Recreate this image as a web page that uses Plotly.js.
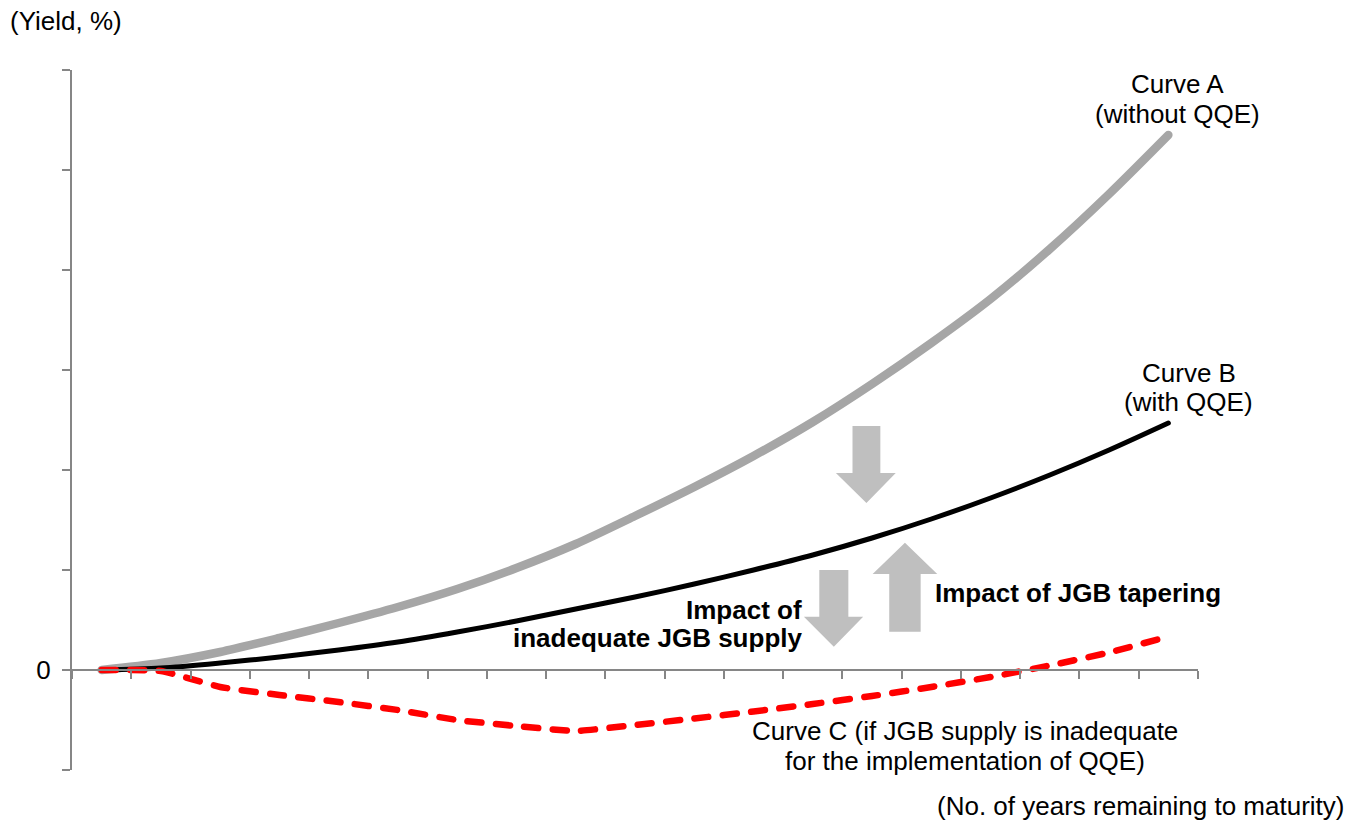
<!DOCTYPE html>
<html>
<head>
<meta charset="utf-8">
<script src="https://cdn.plot.ly/plotly-3.0.1.min.js"></script>
<style>
html,body{margin:0;padding:0;background:#fff;}
#chart{width:1348px;height:824px;}
#chart .scatterlayer path.js-line{stroke-linecap:round;stroke-linejoin:round;}
</style>
</head>
<body>
<div id="chart"></div>
<script>
// Maturity buckets (no. of years remaining to maturity, schematic positions)
const maturity = [1,2,3,4,5,6,7,8,9,10,11,12,13,14,15,16,17,18,19];
// Curve A (without QQE)
const curveA = [0, 0.07, 0.18, 0.32, 0.47, 0.63, 0.81, 1.02, 1.26, 1.54, 1.83, 2.14, 2.48, 2.86, 3.27, 3.71, 4.21, 4.76, 5.35];
// Curve B (with QQE)
const curveB = [0, 0.02, 0.07, 0.13, 0.20, 0.28, 0.38, 0.49, 0.61, 0.73, 0.86, 1.00, 1.15, 1.32, 1.51, 1.72, 1.95, 2.20, 2.47];
// Curve C (if JGB supply is inadequate for the implementation of QQE)
const curveC = [0, -0.01, -0.17, -0.25, -0.32, -0.40, -0.50, -0.56, -0.61, -0.55, -0.485, -0.415, -0.34, -0.26, -0.17, -0.07, 0.045, 0.175, 0.335];
// axis ticks
const xTickVals = [0.5,1.5,2.5,3.5,4.5,5.5,6.5,7.5,8.5,9.5,10.5,11.5,12.5,13.5,14.5,15.5,16.5,17.5,18.5,19.5];
const yTickVals = [-1,0,1,2,3,4,5,6];
const yTickText = ['','0','','','','','',''];

const FONT = 'Liberation Sans, Arial, sans-serif';
const FS = 26;

const traces = [
  {x: maturity, y: curveA, mode: 'lines', line: {color: '#A6A6A6', width: 8.5, shape: 'spline', smoothing: 0.8}, hoverinfo: 'skip'},
  {x: maturity, y: curveB, mode: 'lines', line: {color: '#000000', width: 5, shape: 'spline', smoothing: 0.8}, hoverinfo: 'skip'},
  {x: maturity, y: curveC, mode: 'lines', line: {color: '#FF0000', width: 6.5, dash: '14px,14.5px', shape: 'spline', smoothing: 0.4}, hoverinfo: 'skip'}
];

function arrowDown(x0, x1, hx0, hx1, tipx, top, headStart, tip) {
  return {type: 'path', xref: 'x', yref: 'y', fillcolor: '#BFBFBF', line: {width: 0},
    path: `M ${x0},${top} L ${x1},${top} L ${x1},${headStart} L ${hx1},${headStart} L ${tipx},${tip} L ${hx0},${headStart} L ${x0},${headStart} Z`, layer: 'below'};
}

const shapes = [
  arrowDown(13.67, 14.14, 13.39, 14.40, 13.905, 2.44, 1.97, 1.67),
  arrowDown(13.11, 13.60, 12.85, 13.85, 13.355, 1.00, 0.533, 0.233),
  // up arrow
  {type: 'path', xref: 'x', yref: 'y', fillcolor: '#BFBFBF', line: {width: 0}, layer: 'below',
    path: 'M 14.29,0.383 L 14.82,0.383 L 14.82,0.96 L 15.10,0.96 L 14.555,1.273 L 14.01,0.96 L 14.29,0.96 Z'}
];

function px2x(px) { return (px - 72) / 1126.3; }
function py2y(py) { return (770 - py) / 700; }
function txt(text, px, py, xanchor, bold) {
  return {text: bold ? '<b>' + text + '</b>' : text, xref: 'paper', yref: 'paper', x: px2x(px), y: py2y(py),
    xanchor: xanchor, yanchor: 'middle', showarrow: false, font: {family: FONT, size: FS, color: '#000'}};
}

const annotations = [
  txt('(Yield, %)', 8, 21, 'left'),
  txt('Curve A', 1178, 84, 'center'),
  txt('(without QQE)', 1178, 114, 'center'),
  txt('Curve B', 1189, 373, 'center'),
  txt('(with QQE)', 1189, 402, 'center'),
  txt('Curve C (if JGB supply is inadequate', 965, 731, 'center'),
  txt('for the implementation of QQE)', 965, 761, 'center'),
  txt('(No. of years remaining to maturity)', 1346, 806, 'right'),
  txt('Impact of JGB tapering', 933, 593, 'left', true),
  txt('Impact of', 804, 610, 'right', true),
  txt('inadequate JGB supply', 804, 638, 'right', true)
];

const layout = {
  width: 1348, height: 824,
  margin: {l: 72, r: 150, t: 70, b: 54, pad: 0},
  paper_bgcolor: '#ffffff', plot_bgcolor: '#ffffff',
  showlegend: false,
  xaxis: {range: [0.5, 19.5], showgrid: false, zeroline: false, showline: true, linecolor: '#868686', linewidth: 2,
    anchor: 'free', position: 1/7, ticks: 'outside', tickvals: xTickVals, ticklen: 8, tickwidth: 2, tickcolor: '#868686',
    showticklabels: false, fixedrange: true},
  yaxis: {range: [-1, 6], showgrid: false, zeroline: false, showline: true, linecolor: '#868686', linewidth: 2,
    ticks: 'outside', tickvals: yTickVals, ticktext: yTickText, ticklen: 8, tickwidth: 2, tickcolor: '#868686',
    ticklabelstandoff: 6,
    tickfont: {family: FONT, size: FS, color: '#000'}, fixedrange: true},
  shapes: shapes,
  annotations: annotations,
  font: {family: FONT, size: FS, color: '#000'}
};

Plotly.newPlot('chart', traces, layout, {displayModeBar: false, staticPlot: true});
</script>
</body>
</html>
